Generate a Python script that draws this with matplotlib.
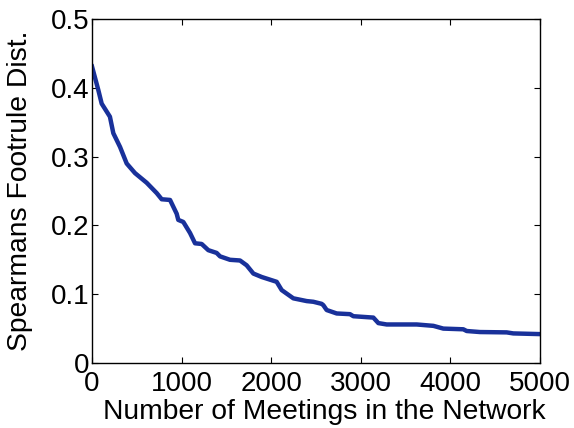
import matplotlib
matplotlib.use("Agg")
import matplotlib.pyplot as plt

plt.rcParams['font.family'] = ['Liberation Sans', 'DejaVu Sans']

# values
meetings = [0, 70, 108, 200, 238, 313, 387, 480, 610, 722, 778, 871, 945, 963,
            1019, 1094, 1150, 1224, 1298, 1391, 1429, 1540, 1652, 1726, 1801,
            1894, 2061, 2117, 2247, 2396, 2470, 2563, 2582, 2619, 2731, 2879,
            2917, 3140, 3196, 3289, 3624, 3810, 3921, 4144, 4182, 4330, 4628,
            4702, 5000]
footrule = [0.431, 0.397, 0.377, 0.358, 0.334, 0.314, 0.290, 0.276, 0.262,
            0.247, 0.238, 0.237, 0.217, 0.208, 0.205, 0.189, 0.174, 0.173,
            0.164, 0.160, 0.155, 0.150, 0.149, 0.142, 0.130, 0.125, 0.118,
            0.106, 0.094, 0.090, 0.089, 0.086, 0.084, 0.077, 0.072, 0.071,
            0.068, 0.066, 0.058, 0.056, 0.056, 0.054, 0.050, 0.049, 0.0465,
            0.045, 0.0445, 0.043, 0.042]

xticks = [0, 1000, 2000, 3000, 4000, 5000]
yticks = [0, 0.1, 0.2, 0.3, 0.4, 0.5]
ytick_labels = ['0', '0.1', '0.2', '0.3', '0.4', '0.5']

fig = plt.figure(figsize=(5.74, 4.28), dpi=100)
ax = fig.add_axes([92 / 574, 1 - 363 / 428, 448 / 574, 344 / 428])

ax.plot(meetings, footrule, color='#19319a', lw=3.2, solid_joinstyle='round')

ax.set_xlim(0, 5000)
ax.set_ylim(0, 0.5)
ax.set_xticks(xticks)
ax.set_xticklabels([str(t) for t in xticks])
ax.set_yticks(yticks)
ax.set_yticklabels(ytick_labels)
ax.tick_params(direction='in', length=4, width=0.8, top=True, right=True,
               labelsize=20)
ax.tick_params(axis='x', pad=6)
ax.tick_params(axis='y', pad=2)
for s in ax.spines.values():
    s.set_linewidth(1.0)

ax.set_xlabel('Number of Meetings in the Network', fontsize=20.3, labelpad=1)
ax.set_ylabel('Spearmans Footrule Dist.', fontsize=20.3, labelpad=13)
ax.xaxis.set_label_coords(0.518, -0.105)

fig.savefig('out.png', dpi=100)
